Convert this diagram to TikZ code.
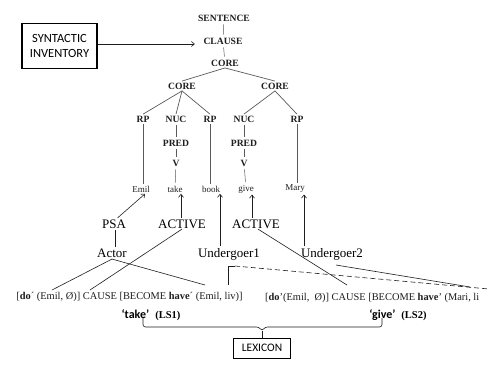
\documentclass[tikz,border=0pt]{standalone}
\usepackage{fontspec}
\setmainfont{Liberation Serif}
\setsansfont{Carlito}
\usetikzlibrary{arrows.meta,calc}
\definecolor{ink}{HTML}{1E1E1E}
\definecolor{treeline}{HTML}{5A5A5A}
\tikzset{
  x=1pt, y=-1pt,
  lab/.style={text=ink, font=\fontsize{9.6}{11}\selectfont\bfseries, inner sep=1.5pt},
  leaf/.style={text=ink, font=\fontsize{9}{10}\selectfont, inner sep=1.5pt},
  role/.style={text=black, font=\fontsize{13}{15}\selectfont, inner sep=1.5pt},
  formula/.style={text=ink, font=\fontsize{10.4}{12}\selectfont, inner sep=1pt},
  boxed/.style={draw=black, line width=1.2pt, font=\sffamily, align=center},
  branch/.style={draw=treeline, line width=0.7pt},
  tick/.style={draw=treeline, line width=0.5pt, shorten <=1.5pt, shorten >=1.5pt},
  arr/.style={draw=ink, line width=0.6pt, -{Straight Barb[length=3pt,width=5pt]}},
  link/.style={draw=ink, line width=0.6pt},
  dashlink/.style={draw=ink, line width=0.6pt, dash pattern=on 5pt off 3pt},
}
\begin{document}
\begin{tikzpicture}
\useasboundingbox[fill=white] (0,0) rectangle (489,365);

% syntactic inventory feeding the tree
\node[boxed, minimum width=75pt, minimum height=45pt,
      font=\sffamily\fontsize{12.5}{15}\selectfont] (syn) at (59.5,46) {SYNTACTIC\\INVENTORY};

% clause skeleton
\node[lab] (sent) at (224,18) {SENTENCE};
\node[lab] (clause) at (223,41) {CLAUSE};
\node[lab] (core) at (225,63) {CORE};
\node[lab] (corel) at (182,86) {CORE};
\node[lab] (corer) at (275,86) {CORE};

\node[lab] (rp1) at (143,119) {RP};
\node[lab] (nuc1) at (176,119) {NUC};
\node[lab] (rp2) at (210,119) {RP};
\node[lab] (nuc2) at (244,119) {NUC};
\node[lab] (rp3) at (297,119) {RP};

\node[lab] (pred1) at (176,143) {PRED};
\node[lab] (v1) at (176,163) {V};
\node[lab] (pred2) at (244,143) {PRED};
\node[lab] (v2) at (244,163) {V};

\node[leaf] (emil) at (141,189) {Emil};
\node[leaf] (take) at (175,189) {take};
\node[leaf] (book) at (211,189) {book};
\node[leaf] (give) at (246,189) {give};
\node[leaf] (mary) at (295,189) {Mary};

\draw[arr] ([yshift=2pt]syn.east) -- ([xshift=-7pt,yshift=2pt]clause.west |- syn.east);

\draw[tick] (sent) -- (clause);
\draw[tick] (clause) -- (core);
\draw[branch] (core.south) -- (corel.north);
\draw[branch] (core.south) -- (corer.north);
\draw[branch] (corel.south) -- (rp1.north);
\draw[branch] (corel.south) -- (nuc1.north);
\draw[branch] (corel.south) -- (rp2.north);
\draw[branch] (corer.south) -- (nuc2.north);
\draw[branch] (corer.south) -- (rp3.north);

\draw[branch] (rp1.south) -- (rp1.south |- emil.north);
\draw[branch] (rp2.south) -- (rp2.south |- book.north);
\draw[branch] (rp3.south) -- (rp3.south |- mary.north);
\draw[tick] (nuc1) -- (pred1);
\draw[tick] (pred1) -- (v1);
\draw[tick] (v1) -- (take);
\draw[tick] (nuc2) -- (pred2);
\draw[tick] (pred2) -- (v2);
\draw[tick] (v2) -- (give);

% macroroles and privileged argument
\node[role] (psa) at (114,224) {PSA};
\node[role] (act1) at (182,224) {ACTIVE};
\node[role] (act2) at (256,224) {ACTIVE};
\node[role] (actor) at (112,253) {Actor};
\node[role] (ug1) at (229,254) {Undergoer1};
\node[role] (ug2) at (332,254) {Undergoer2};

\draw[arr] (psa.60) -- (emil.-50);
\draw[arr] ([xshift=-1pt]act1.north) -- ([xshift=-1pt]act1.north |- take.south);
\draw[arr] ([xshift=-9pt]ug1.north) -- ([xshift=-9pt]ug1.north |- book.south);
\draw[arr] ([xshift=-4pt]act2.north) -- ([xshift=-4pt]act2.north |- give.south);
\draw[arr] ([xshift=-28pt]ug2.north) -- ([xshift=-28pt]ug2.north |- mary.south);
\draw[link] ([xshift=1pt]psa.south) -- ([xshift=1pt]psa.south |- actor.north);

% logical structures
\node[formula] (ls1) at (129.5,297)
  {[\textbf{do}´ (Emil, Ø)] CAUSE [BECOME \textbf{have}´ (Emil, liv)]};
\node[formula, anchor=west] (ls2) at (264,298)
  {[\textbf{do}’(Emil,\ \ Ø)] CAUSE [BECOME \textbf{have}’ (Mari, li};

\coordinate (a1) at (52,290);
\coordinate (a2) at (205,285);
\coordinate (p1) at (90,290);
\coordinate (u1) at (228,285);
\coordinate (u1k) at (228,266);
\coordinate (u1d) at (235,266);
\coordinate (u1e) at (489,289);
\coordinate (p2) at (347,285);
\coordinate (u2a) at (336,265);
\coordinate (u2e) at (470,287);

\draw[link] (actor.south) -- (a1);
\draw[link] (actor.south) -- (a2);
\draw[link] ([yshift=1pt]act1.south) -- (p1);
\draw[link] (u1) -- (u1k) -- (u1d);
\draw[dashlink] (u1d) -- (u1e);
\draw[link] ([xshift=2pt,yshift=1pt]act2.south) -- (p2);
\draw[link] (u2a) -- (u2e);

% predicate labels and the lexicon
\node[text=black, inner sep=1pt] (take1) at (151,315)
  {\sffamily\bfseries\fontsize{12}{14}\selectfont ‘take’\enspace{\rmfamily\fontsize{10.5}{12}\selectfont (LS1)}};
\node[text=black, inner sep=1pt] (give2) at (398,315)
  {\sffamily\bfseries\fontsize{12}{14}\selectfont ‘give’\enspace{\rmfamily\fontsize{10.5}{12}\selectfont (LS2)}};

\node[boxed, line width=1pt, minimum width=57pt, minimum height=20pt,
      font=\sffamily\fontsize{11.5}{13}\selectfont] (lex) at (262,348) {LEXICON};

\coordinate (bl) at (143,318);
\coordinate (br) at (382,318);
\coordinate (bm) at (262,331);
\draw[draw=ink, line width=0.6pt, rounded corners=2.5pt]
  (bl) |- (259,327) -- (bm) -- (265,327) -| (br);
\draw[draw=ink, line width=0.6pt] (bm) -- (lex.north);
\end{tikzpicture}
\end{document}
